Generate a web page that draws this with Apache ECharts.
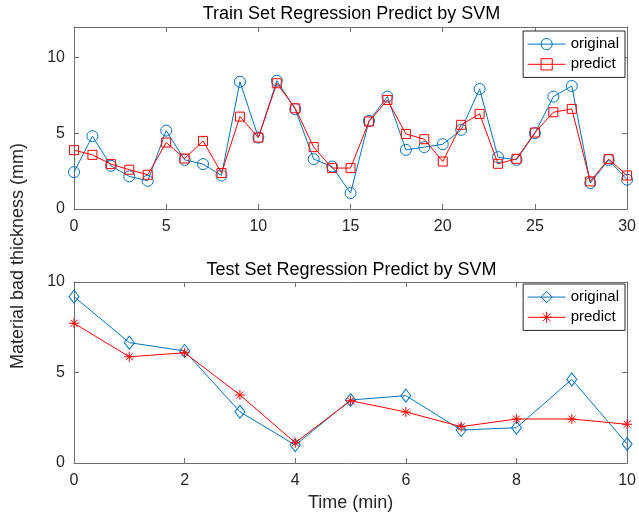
<!DOCTYPE html>
<html>
<head>
<meta charset="utf-8">
<script src="https://cdn.jsdelivr.net/npm/echarts@6/dist/echarts.min.js"></script>
<style>
html, body { margin: 0; padding: 0; background: #fff; }
#chart { width: 639px; height: 518px; }
</style>
</head>
<body>
<div id="chart"></div>
<script>
// train set, x = 0..30
const trainX = [0,1,2,3,4,5,6,7,8,9,10,11,12,13,14,15,16,17,18,19,20,21,22,23,24,25,26,27,28,29,30]
const trainOriginal = [2.43,4.80,2.85,2.15,1.86,5.17,3.24,2.96,2.21,8.39,4.71,8.46,6.58,3.29,2.80,1.05,5.81,7.41,3.90,4.08,4.27,5.22,7.91,3.42,3.24,5.00,7.41,8.11,1.71,3.24,1.93]
const trainPredict = [3.88,3.57,2.96,2.59,2.26,4.38,3.33,4.49,2.37,6.09,4.71,8.29,6.64,4.08,2.70,2.70,5.77,7.19,4.95,4.60,3.13,5.55,6.27,2.98,3.31,5.04,6.38,6.60,1.82,3.29,2.21]

// test set, x = 0..10
const testX = [0,1,2,3,4,5,6,7,8,9,10]
const testOriginal = [9.19,6.65,6.19,2.83,0.99,3.48,3.72,1.82,1.95,4.62,1.05]
const testPredict = [7.72,5.87,6.09,3.76,1.12,3.44,2.82,2.01,2.43,2.43,2.14]

const blue = '#0072BD'
const red = '#FF0000'
const axisGray = '#6e6e6e'
const textCol = '#262626'
const star = 'path://M0,5L10,5M5,0L5,10M1.5,1.5L8.5,8.5M8.5,1.5L1.5,8.5'

function pairs(xs, ys) {
  return xs.map((x, i) => [x, ys[i]])
}

function xAx(grid, max, interval, pos, name) {
  return {
    type: 'value', gridIndex: grid, min: 0, max: max, interval: interval, position: pos,
    name: name || '', nameLocation: 'middle', nameGap: 31,
    nameTextStyle: { fontSize: 18, color: textCol, fontFamily: 'Liberation Sans' },
    axisLine: { show: true, onZero: false, lineStyle: { color: axisGray } },
    axisTick: { show: true, inside: true, length: 5, lineStyle: { color: axisGray } },
    axisLabel: { show: pos === 'bottom', fontSize: 16, color: textCol, margin: 10, fontFamily: 'Liberation Sans' },
    splitLine: { show: false }
  }
}

function yAx(grid, max, pos) {
  return {
    type: 'value', gridIndex: grid, min: 0, max: max, interval: 5, position: pos,
    axisLine: { show: true, onZero: false, lineStyle: { color: axisGray } },
    axisTick: { show: true, inside: true, length: 5, lineStyle: { color: axisGray } },
    axisLabel: { show: pos === 'left', fontSize: 16, color: textCol, margin: 9, showMaxLabel: max === 10, fontFamily: 'Liberation Sans' },
    splitLine: { show: false }
  }
}

function line(name, xi, yi, data, color, symbol, size) {
  return {
    name: name, type: 'line', xAxisIndex: xi, yAxisIndex: yi, data: data,
    symbol: symbol, symbolSize: size, showAllSymbol: true,
    lineStyle: { color: color, width: 1 },
    itemStyle: { color: 'none', borderColor: color, borderWidth: 1 },
    emphasis: { disabled: true },
    animation: false, z: color === red ? 3 : 2
  }
}

function legend(top, names) {
  return {
    data: names, orient: 'vertical', right: 14, top: top,
    backgroundColor: '#fff', borderColor: textCol, borderWidth: 1,
    padding: [5, 6, 5, 4], itemGap: 4, itemWidth: 38, itemHeight: 14,
    lineStyle: { width: 1 },
    itemStyle: { borderWidth: 1 },
    textStyle: { fontSize: 15, color: '#000', fontFamily: 'Liberation Sans' },
    formatter: n => n.replace(/2$/, ''),
    selectedMode: false
  }
}

const myChart = echarts.init(document.getElementById('chart'))
let option = {
  animation: false,
  grid: [
    { left: 74, right: 10, top: 27, height: 182 },
    { left: 74, right: 10, top: 282, height: 181 }
  ],
  xAxis: [
    xAx(0, 30, 5, 'bottom'), xAx(0, 30, 5, 'top'),
    xAx(1, 10, 2, 'bottom', 'Time (min)'), xAx(1, 10, 2, 'top')
  ],
  yAxis: [
    yAx(0, 12, 'left'), yAx(0, 12, 'right'),
    yAx(1, 10, 'left'), yAx(1, 10, 'right')
  ],
  legend: [
    legend(31, ['original', 'predict']),
    legend(284, ['original2', 'predict2'])
  ],
  series: [
    line('original', 0, 0, pairs(trainX, trainOriginal), blue, 'circle', 11),
    line('predict', 0, 0, pairs(trainX, trainPredict), red, 'rect', 9),
    line('original2', 2, 2, pairs(testX, testOriginal), blue, 'diamond', [10, 13]),
    line('predict2', 2, 2, pairs(testX, testPredict), red, star, 10)
  ],
  graphic: [
    { type: 'text', x: 351.5, y: 14, style: { text: 'Train Set Regression Predict by SVM', fill: '#000', font: '18px "Liberation Sans"', textAlign: 'center', textVerticalAlign: 'middle' } },
    { type: 'text', x: 351.5, y: 270, style: { text: 'Test Set Regression Predict by SVM', fill: '#000', font: '18px "Liberation Sans"', textAlign: 'center', textVerticalAlign: 'middle' } },
    { type: 'text', x: 18, y: 256, rotation: Math.PI / 2, style: { text: 'Material bad thickness (mm)', fill: textCol, font: '18px "Liberation Sans"', textAlign: 'center', textVerticalAlign: 'middle' } }
  ]
}
myChart.setOption(option)
</script>
</body>
</html>
